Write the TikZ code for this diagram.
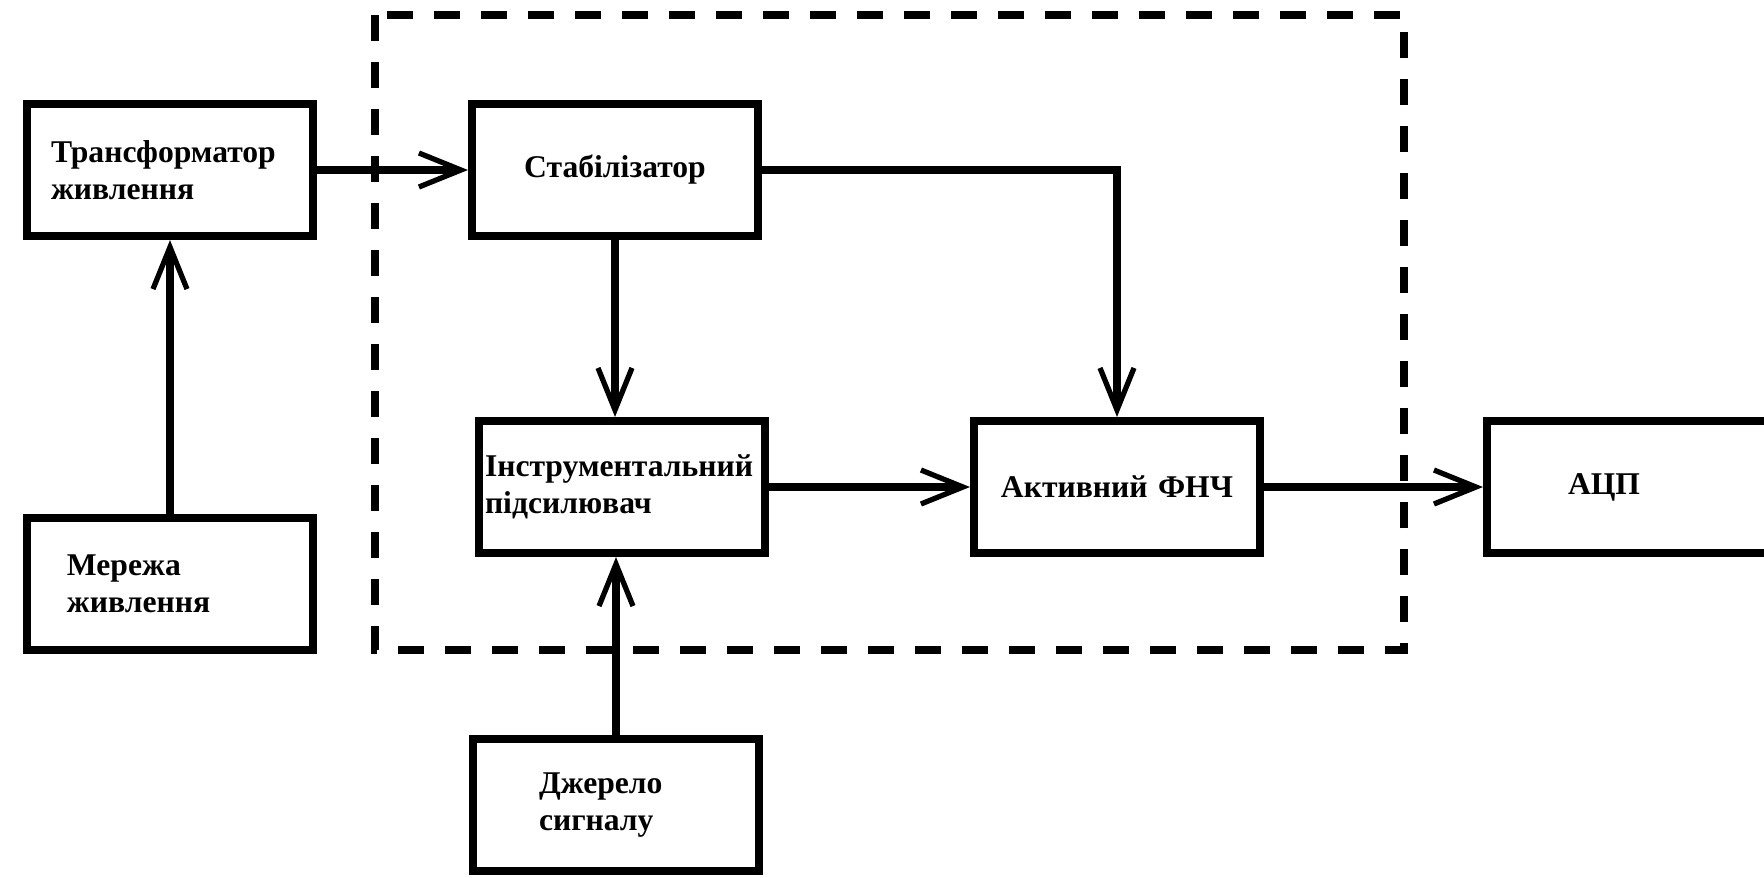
\documentclass[tikz,border=0pt]{standalone}
\usepackage{fontspec}
\setmainfont{Liberation Serif}
\usetikzlibrary{arrows.meta}

\tikzset{
  blk/.style={draw, line width=2.3pt, minimum width=2.86cm, minimum height=1.32cm,
    font=\bfseries\fontsize{9}{10.5}\selectfont},
  conn/.style={line width=2.3pt, -{Straight Barb[length=0.42cm, width=0.34cm, line width=1.5pt]}},
  frame/.style={line width=2.3pt, dash pattern=on 0.26cm off 0.21cm}
}

\begin{document}
\begin{tikzpicture}
            \useasboundingbox (0,0) rectangle (17.64,-8.77);
            % dashed board outline
            \draw[frame] (3.75,-0.15) rectangle (14.04,-6.50);
            \node[blk, align=left, inner xsep=0.24cm, text width=2.38cm] (trans) at (1.70,-1.70) {Трансформатор\\живлення};
            \node[blk, align=left, inner xsep=0.40cm, text width=2.06cm] (mereja) at (1.70,-5.84) {Мережа\\живлення};
            \node[blk, align=center, text width=2.6cm] (stab) at (6.15,-1.70) {Стабілізатор};
            \node[blk, align=left, inner xsep=0.06cm, text width=2.74cm] (instr) at (6.22,-4.87) {Інструментальний\\підсилювач};
            \node[blk, align=center, text width=2.6cm] (activ) at (11.17,-4.87) {Активний ФНЧ};
            \node[blk, align=left, inner xsep=0.81cm, text width=1.24cm] (adc) at (16.30,-4.87) {АЦП};
            \node[blk, align=left, inner xsep=0.66cm, text width=1.54cm] (djerelo) at (6.16,-8.05) {Джерело\\сигналу};
            % connections
            \draw[conn] (mereja.north) -- (trans.south);
            \draw[conn] (trans.east) -- (stab.west);
            \draw[conn] (stab.south) -- (stab.south |- instr.north);
            \draw[conn] (stab.east) -| (activ.north);
            \draw[conn] (djerelo.north) -- (djerelo.north |- instr.south);
            \draw[conn] (instr.east) -- (activ.west);
            \draw[conn] (activ.east) -- (adc.west);
        \end{tikzpicture}
\end{document}
